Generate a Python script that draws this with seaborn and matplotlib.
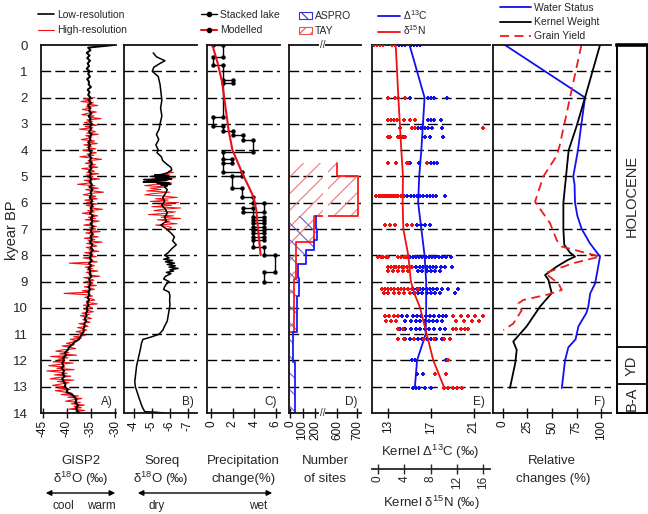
import numpy as np
import pandas as pd
import matplotlib
matplotlib.use('Agg')
import matplotlib.pyplot as plt
import matplotlib.transforms as mtransforms
import seaborn as sns
from matplotlib.lines import Line2D
from matplotlib.patches import Patch

sns.set_style('ticks')
plt.rcParams['font.family'] = ['Liberation Sans', 'DejaVu Sans']
plt.rcParams['mathtext.fontset'] = 'custom'
plt.rcParams['mathtext.rm'] = 'Liberation Sans'
plt.rcParams['mathtext.it'] = 'Liberation Sans:italic'
plt.rcParams['mathtext.bf'] = 'Liberation Sans:bold'
plt.rcParams['axes.unicode_minus'] = False
plt.rcParams['hatch.linewidth'] = 0.8

# ---------------- DATA ----------------
# A) GISP2 d18O
GISP2_LO = [-30.2,
    -35.6, -35.1, -35.9, -35.3, -35.8, -35.2, -35.7, -35.4, -35.9, -35.3,
    -35.6, -35.2, -35.8, -35.4, -35.5, -35.0, -35.7, -35.3, -35.6, -35.1,
    -35.5, -35.0, -35.6, -35.2, -35.4, -34.9, -35.5, -35.1, -35.3, -34.8,
    -35.2, -35.0, -35.4, -34.9, -35.3, -35.1, -35.6, -35.2, -35.5, -35.3,
    -35.0, -35.4, -34.9, -35.3, -34.8, -35.2, -34.9, -35.4, -35.0, -35.3,
    -34.9, -35.3, -34.8, -35.2, -34.7, -35.1, -34.9, -35.3, -34.8, -35.0,
    -34.7, -35.1, -34.8, -35.2, -34.6, -35.0, -34.7, -35.1, -34.6, -34.9,
    -35.0, -34.6, -35.1, -34.8, -35.2, -34.7, -35.0, -34.6, -35.1, -34.9,
    -35.3, -34.8, -35.4, -35.0, -35.5, -35.1, -35.3, -34.9, -35.4, -35.2,
    -35.1, -35.5, -35.2, -35.6, -35.3, -35.7, -35.4, -35.8, -35.5, -35.9,
    -35.7, -36.1, -35.9, -36.3, -36.0, -36.4, -36.3, -36.6, -36.5, -36.9,
    -37.2, -37.5, -38.4, -38.9, -39.6, -39.8, -40.4, -40.2, -40.8, -40.6,
    -41.0, -40.7, -41.1, -40.6, -40.9, -40.5, -41.0, -40.7, -40.3, -40.5,
    -39.8, -40.1, -38.9, -38.4, -38.0, -38.3, -37.7, -38.1, -37.9, -37.5]
GISP2_LO_RANGE = (0.0, 14.0)

GISP2_HI = [
    -34.2, -36.3, -35.0, -37.1, -34.5, -35.8, -33.6, -36.0, -34.9, -36.8, -35.3, -33.9, -35.7, -36.9, -34.4, -35.5, -32.9, -35.9, -34.7, -36.4,
    -35.1, -33.8, -36.2, -34.6, -37.4, -35.0, -34.1, -35.9, -33.5, -36.1, -34.8, -35.6, -37.0, -34.3, -35.4, -33.7, -36.5, -34.9, -35.8, -34.0,
    -36.7, -35.2, -33.9, -35.8, -34.4, -37.3, -35.0, -32.8, -35.6, -34.7, -36.2, -34.1, -35.5, -33.6, -36.9, -35.1, -34.3, -35.9, -33.4, -36.0,
    -34.6, -35.7, -33.2, -36.4, -34.9, -35.3, -37.8, -34.2, -35.6, -33.5, -36.1, -34.8, -32.4, -35.4, -36.6, -34.0, -35.2, -33.7, -36.3, -34.5,
    -35.9, -33.8, -36.0, -34.4, -35.1, -32.6, -35.7, -34.3, -36.8, -34.9, -33.6, -35.5, -34.1, -36.2, -33.3, -35.0, -34.6, -36.5, -33.9, -35.3,
    -34.0, -35.8, -33.1, -36.1, -34.7, -35.2, -33.5, -36.4, -34.2, -35.6, -32.7, -35.9, -34.5, -33.8, -36.0, -34.9, -35.4, -33.4, -36.3, -34.6,
    -35.5, -33.9, -36.6, -34.8, -35.2, -33.7, -39.5, -35.0, -34.3, -36.2, -34.7, -35.8, -33.6, -36.0, -34.9, -35.4, -33.2, -36.5, -35.1, -34.4,
    -36.1, -34.6, -35.7, -33.9, -36.4, -35.0, -34.3, -36.8, -35.2, -40.6, -35.9, -34.7, -36.3, -35.1, -34.2, -36.0, -35.4, -33.7, -36.6, -35.3,
    -34.8, -36.4, -35.6, -34.5, -36.9, -35.3, -37.2, -35.8, -34.9, -36.7, -36.0, -35.2, -37.5, -36.3, -35.6, -37.8, -36.5, -35.9, -38.1, -36.8,
    -37.4, -36.2, -38.6, -37.0, -39.3, -37.9, -38.8, -40.1, -38.5, -41.0, -39.4, -38.2, -40.9, -42.3, -39.6, -41.5, -38.0, -43.4, -39.8, -41.8,
    -40.5, -42.9, -38.7, -41.6, -43.8, -40.4, -42.1, -38.5, -44.2, -41.3, -40.0, -42.6, -39.2, -41.9, -43.5, -38.6, -42.0, -39.6, -41.4, -43.0,
    -40.2, -41.8, -39.3, -42.4, -40.6, -38.9, -41.2, -37.6, -39.8, -36.9, -38.7, -40.3, -37.2, -39.1, -36.4, -38.5, -37.0, -39.6, -36.3, -38.2,
    -37.4]
GISP2_HI_RANGE = (2.0, 14.0)

# B) Soreq d18O
SOREQ_AGE = [0.30, 0.45, 0.60, 0.70, 0.85, 1.00, 1.20, 1.50, 1.80, 2.10, 2.40, 2.70, 3.00, 3.20, 3.40,
             3.60, 3.80, 4.00, 4.10, 4.25, 4.40, 4.55, 4.65, 4.75, 4.85, 4.92, 4.95, 4.97, 5.00, 5.03,
             5.06, 5.09, 5.12, 5.15, 5.18, 5.21, 5.24, 5.27, 5.30, 5.33, 5.36, 5.40, 5.50, 5.65, 5.80,
             5.95, 6.10, 6.25, 6.40, 6.55, 6.70, 6.85, 7.00, 7.15, 7.30, 7.45, 7.60, 7.75, 7.90, 8.00,
             8.10, 8.15, 8.20, 8.25, 8.30, 8.35, 8.40, 8.45, 8.50, 8.55, 8.60, 8.65, 8.70, 8.80, 8.90,
             9.00, 9.10, 9.20, 9.30, 9.40, 9.55, 9.70, 9.90, 10.10, 10.30, 10.50, 10.70, 10.85, 11.00, 11.10,
             11.20, 11.35, 11.60, 11.90, 12.20, 12.50, 12.80, 13.00, 13.25, 13.50, 13.75, 13.95, 13.97, 14.00]
SOREQ = [-5.07, -5.25, -5.72, -5.45, -5.10, -5.02, -5.35, -5.45, -5.50, -5.55, -5.48, -5.55, -5.45, -5.40, -5.25,
         -5.38, -5.22, -5.35, -5.28, -5.52, -5.60, -5.85, -6.05, -6.10, -5.90, -5.60, -5.15, -5.90, -4.90, -5.95,
         -5.20, -6.10, -4.55, -5.80, -5.00, -4.52, -5.95, -5.30, -6.05, -5.50, -5.85, -5.70, -5.85, -5.75, -5.60,
         -5.70, -5.55, -5.75, -5.85, -5.70, -5.80, -5.50, -5.80, -6.05, -6.25, -6.15, -6.35, -6.10, -5.90, -5.70,
         -5.95, -5.65, -6.15, -5.75, -6.25, -5.85, -6.30, -5.95, -6.45, -6.00, -6.20, -5.80, -6.05, -5.75, -5.65,
         -5.95, -5.80, -5.70, -5.65, -5.95, -6.00, -5.98, -6.00, -5.95, -5.90, -5.85, -5.70, -5.60, -5.40, -5.00,
         -4.50, -4.42, -4.35, -4.25, -4.15, -4.10, -4.05, -4.08, -4.20, -4.32, -4.45, -4.60, -5.20, -5.70]
SOREQ_HI = [-5.9, -6.2, -5.6, -6.0, -5.3, -6.3, -5.0, -5.9, -4.8, -6.1, -5.2, -4.6, -5.8, -4.9, -5.5,
            -4.7, -6.0, -5.1, -4.6, -5.7, -6.4, -5.2, -5.9, -4.9, -6.5, -5.4, -6.1, -5.0, -6.6, -5.6,
            -5.1, -6.3, -5.8, -4.8, -6.2, -5.5, -6.6, -5.3, -6.0, -5.7, -6.4, -5.2, -5.9, -6.1, -5.8]
SOREQ_HI_RANGE = (4.8, 7.0)

# C) Precipitation change (%)
LAKE_VAL = [0.12, 1.05, 1.05, 0.12, 0.12, 1.05, 1.05, 2.06, 2.06, 1.05, 1.05, 0.12, 0.12, 1.05, 1.05,
            2.06, 2.06, 2.98, 2.98, 3.91, 3.91, 1.05, 1.05, 1.97, 1.97, 1.05, 1.05, 2.89, 2.89, 1.97,
            1.97, 2.89, 2.89, 3.91, 3.91, 4.93, 4.93, 2.98, 2.98, 3.91, 3.91, 4.93, 4.93, 3.91, 3.91,
            4.93, 4.93, 3.91, 3.91, 4.93, 4.93, 3.91, 3.91, 4.93, 4.93, 3.91, 3.91, 4.93, 4.93, 5.91,
            5.91, 4.93, 4.93]
LAKE_AGE = [0.00, 0.00, 0.47, 0.47, 0.76, 0.76, 1.33, 1.33, 1.43, 1.43, 2.73, 2.73, 3.10, 3.10, 3.29,
            3.29, 3.42, 3.42, 3.61, 3.61, 4.06, 4.06, 4.35, 4.35, 4.50, 4.50, 4.82, 4.82, 5.00, 5.00,
            5.45, 5.45, 5.77, 5.77, 6.02, 6.02, 6.34, 6.34, 6.21, 6.21, 6.53, 6.53, 6.65, 6.65, 6.78,
            6.78, 6.91, 6.91, 7.04, 7.04, 7.16, 7.16, 7.29, 7.29, 7.41, 7.41, 7.67, 7.67, 7.98, 7.98,
            8.62, 8.62, 9.00]
MODEL_VAL = [0.1, 0.6, 1.0, 1.3, 1.6, 1.97, 2.5, 2.9, 3.5, 3.95, 4.2, 4.35, 4.5, 4.6]
MODEL_AGE = [0.0, 0.7, 1.4, 2.3, 3.2, 4.0, 4.5, 4.9, 5.4, 5.8, 6.3, 7.0, 7.6, 8.0]

# D) Number of sites
ASPRO_EDGES = [6.5, 7.0, 7.4, 7.8, 8.35, 8.85, 9.55, 10.9, 12.05, 14.0]
ASPRO_COUNT = [205, 212, 188, 126, 62, 72, 52, 22, 42]
TAY_EDGES = [4.5, 5.0, 6.5, 7.5, 8.9, 10.9]
TAY_COUNT = [600, 705, 190, 45, 28]

# E) Kernel isotopes
D13C_LINE_AGE = [0, 2, 3, 4, 5, 6, 7, 8, 9, 10, 11, 12, 13]
D13C_LINE = [15.0, 16.4, 16.25, 16.1, 15.9, 15.8, 16.1, 16.4, 16.55, 16.55, 16.5, 15.7, 15.5]
D15N_LINE_AGE = [0, 2, 4, 5, 6, 7, 8, 9, 9.5, 10, 11, 11.3, 12, 13]
D15N_LINE = [2.7, 3.1, 3.55, 3.8, 3.75, 3.85, 4.6, 5.0, 5.6, 6.4, 7.4, 7.7, 8.4, 10.0]
D13C_PTS = {
    0.0: [14.0, 14.3, 14.6, 15.1, 15.4, 15.7, 16.0],
    2.0: [15.0, 16.7, 17.0, 17.3, 18.5],
    2.85: [16.7, 17.0, 17.3, 17.9],
    3.15: [15.8, 16.1, 16.4, 16.7, 17.1, 18.0],
    3.5: [14.1, 14.4, 16.4, 16.9, 18.1],
    4.5: [15.0, 15.9, 17.0, 17.3, 17.6],
    5.75: [14.5, 14.8, 15.1, 15.4, 15.7, 16.0, 16.3, 16.6, 16.9, 17.2, 17.5, 18.3],
    6.85: [15.65, 16.1, 16.4, 16.9],
    8.05: [14.6, 15.0, 15.3, 15.6, 15.9, 16.2, 16.5, 16.8, 17.1, 17.4, 17.7, 18.0, 18.4, 18.9],
    8.45: [15.2, 15.6, 16.0, 16.3, 16.6, 16.9, 17.2, 17.5, 17.9, 18.3, 19.0],
    8.6: [15.8, 16.2, 16.6, 17.0, 17.4, 17.8],
    9.3: [14.9, 15.3, 15.7, 16.0, 16.3, 16.6, 16.9, 17.2, 17.6, 18.0, 18.6, 19.5],
    9.45: [15.4, 15.8, 16.2, 16.6, 17.0, 17.4, 17.8, 19.2],
    10.3: [14.3, 14.8, 15.3, 15.7, 16.1, 16.5, 16.9, 17.3, 17.7, 18.1, 18.4],
    10.5: [14.6, 15.1, 15.6, 16.0, 16.4, 16.8, 17.2, 17.6, 18.0],
    10.8: [14.1, 14.6, 15.1, 15.6, 16.0, 16.4, 16.8, 17.3, 17.8, 18.3],
    11.2: [14.6, 15.0, 15.4, 15.8, 16.2, 16.6, 17.0, 17.5, 18.0],
    12.0: [15.2, 15.5, 18.4],
    12.5: [15.7, 16.3],
    13.05: [15.3, 15.6, 15.9, 16.4, 17.0],
}
D15N_PTS = {
    0.0: [-0.6, -0.2, 0.3, 0.8, 2.1, 2.6],
    2.0: [1.6, 2.6, 3.1, 4.1],
    2.85: [1.6, 2.0, 2.4, 2.9, 3.9, 4.9, 5.6],
    3.15: [3.3, 5.1, 5.6, 16.0],
    3.5: [1.6, 1.8, 3.1, 3.6, 4.1],
    4.5: [1.6, 2.8, 4.4, 4.6, 7.4],
    5.75: [-0.3, 0.1, 0.4, 0.7, 1.0, 1.3, 1.6, 1.9, 2.2, 2.5, 2.8, 3.1, 3.5, 3.8],
    6.85: [1.06, 1.8, 2.6, 4.4, 5.1],
    8.05: [0.05, 0.4, 0.8, 1.2, 1.6, 3.1, 3.5, 3.9, 4.3, 4.6],
    8.45: [1.6, 2.0, 2.4, 2.8, 3.2, 3.6, 4.0, 4.4, 4.8, 5.1],
    8.6: [1.5, 2.3, 3.0, 3.8, 4.5],
    9.3: [0.6, 1.0, 1.5, 2.0, 2.5, 3.0, 3.5, 4.0, 4.6, 5.2, 6.1],
    9.45: [0.9, 1.6, 2.4, 3.2, 4.0, 4.8, 5.6],
    10.3: [1.0, 1.7, 2.4, 3.0, 11.4, 12.6, 13.6, 14.8, 16.0],
    10.5: [1.2, 2.0, 2.8, 11.8, 13.0, 14.2, 15.4],
    10.8: [3.1, 3.8, 11.4, 11.9, 12.6, 13.2, 13.7],
    11.2: [3.1, 4.0, 5.5, 7.0, 8.5, 10.0, 11.0],
    12.0: [10.7],
    12.5: [8.7, 10.4],
    13.05: [10.0, 10.6, 11.4, 12.0, 12.7],
}

# F) Relative changes (%)
WATER_AGE = [0, 2.0, 3.0, 4.0, 5.0, 5.3, 6.0, 6.5, 7.0, 7.55, 8.05, 9.07, 9.45, 9.96, 10.2, 10.7, 11.2, 11.5, 12.0, 13.05]
WATER = [2, 83.7, 80, 76.5, 71.7, 73, 73.5, 75.9, 80.3, 88.8, 99, 94, 89, 87, 85, 77, 74, 66.7, 63.3, 60]
KW_AGE = [0, 2.0, 3.1, 4.0, 5.0, 6.0, 7.0, 7.6, 7.9, 8.05, 8.18, 8.43, 8.75, 8.93, 9.44, 9.95, 10.7, 11.28, 11.6, 12.1, 13.05]
KW = [99, 83.7, 75, 67, 64.3, 61.6, 61.6, 62.5, 68.4, 73.5, 66, 54.8, 42.9, 46.3, 49.7, 37.8, 24.2, 10.5, 14, 12.5, 7.1]
GY_AGE = [0, 2.0, 3.8, 4.2, 5.0, 5.96, 6.78, 7.42, 7.67, 8.05, 8.3, 8.68, 9.07, 9.32, 9.5, 9.7, 9.83, 10.1, 10.6, 10.85]
GY = [80, 68.4, 58, 55, 41.2, 32.7, 48, 54.8, 60, 99, 71.7, 42.9, 56.5, 60, 45, 20.7, 15.6, 19, 10.5, 0.3]

PERIODS = ['HOLOCENE', 'YD', 'B-A']
PERIOD_EDGES = [0.0, 11.5, 12.9, 14.0]

# ---------------- FIGURE ----------------
W, H = 648, 514
fig = plt.figure(figsize=(W / 100, H / 100), dpi=100)
RED = '#f01010'
BLUE = '#1010f0'
TOP, BOT = 45, 413


def rect(x0, x1):
    return [x0 / W, 1 - BOT / H, (x1 - x0) / W, (BOT - TOP) / H]


def style(ax, xlim, xticks, label):
    ax.set_xlim(*xlim)
    ax.set_ylim(14, 0)
    ax.set_xticks(xticks)
    ax.spines['right'].set_visible(False)
    for s in ('left', 'top', 'bottom'):
        ax.spines[s].set_linewidth(1.3)
        ax.spines[s].set_color('#111111')
    ax.tick_params(axis='x', direction='inout', length=6.5, width=1.0, labelsize=8.5,
                   labelrotation=90, pad=2, colors='#111111')
    ax.tick_params(axis='y', left=False, labelleft=False)
    for k in range(1, 14):
        ax.axhline(k, color='black', lw=1.0, ls=(0, (7, 3)), zorder=0.8)
    ax.set_xlabel('')
    ax.set_ylabel('')
    ax.text(0.955, 0.03, label, transform=ax.transAxes, ha='right', va='center', fontsize=8.5)


def ages(rng, vals):
    return np.linspace(rng[0], rng[1], len(vals))


# Panel A
axA = fig.add_axes(rect(41, 116))
sns.lineplot(x=GISP2_HI, y=ages(GISP2_HI_RANGE, GISP2_HI), sort=False, estimator=None,
             color=RED, lw=0.8, ax=axA)
sns.lineplot(x=GISP2_LO, y=ages(GISP2_LO_RANGE, GISP2_LO), sort=False, estimator=None,
             color='black', lw=1.4, ax=axA)
style(axA, (-45.4, -29.8), [-45, -40, -35, -30], 'A)')
axA.set_yticks(range(15))
axA.tick_params(axis='y', left=False, labelleft=True, labelsize=9.5, pad=6)

# Panel B
axB = fig.add_axes(rect(124, 197))
sns.lineplot(x=SOREQ_HI, y=ages(SOREQ_HI_RANGE, SOREQ_HI), sort=False, estimator=None,
             color=RED, lw=0.7, ax=axB)
sns.lineplot(x=SOREQ, y=SOREQ_AGE, sort=False, estimator=None, color='black', lw=1.1, ax=axB)
style(axB, (-3.45, -7.5), [-4, -5, -6, -7], 'B)')

# Panel C
axC = fig.add_axes(rect(207, 280))
sns.lineplot(x=LAKE_VAL, y=LAKE_AGE, sort=False, estimator=None, color='black', lw=1.0,
             marker='o', markersize=3.2, markeredgewidth=0, ax=axC)
sns.lineplot(x=MODEL_VAL, y=MODEL_AGE, sort=False, estimator=None, color='#e8101a', lw=1.5, ax=axC)
style(axC, (-0.4, 6.4), [0, 2, 4, 6], 'C)')

# Panel D (broken x axis)
def d_fwd(x):
    x = np.asarray(x, float)
    return np.where(x <= 250, x * 0.125,
                    np.where(x < 555, 31.25 + (x - 250) * (6.75 / 305), 38 + (x - 555) * 0.2))


def d_inv(p):
    p = np.asarray(p, float)
    return np.where(p <= 31.25, p / 0.125,
                    np.where(p < 38, 250 + (p - 31.25) * (305 / 6.75), 555 + (p - 38) / 0.2))


axD = fig.add_axes(rect(289, 361))
axD.set_xscale('function', functions=(d_fwd, d_inv))


def step_outline(edges, counts):
    xs, ys = [], []
    for i, c in enumerate(counts):
        xs += [c, c]
        ys += [edges[i], edges[i + 1]]
    xs.append(0)
    ys.append(edges[-1])
    return xs, ys


axD.fill_betweenx(TAY_EDGES, 0, TAY_COUNT + TAY_COUNT[-1:], step='post', facecolor='none',
                  edgecolor='#f07878', hatch='//', linewidth=0, zorder=1)
axD.fill_betweenx(ASPRO_EDGES, 0, ASPRO_COUNT + ASPRO_COUNT[-1:], step='post', facecolor='none',
                  edgecolor='#6060d8', hatch='\\\\', linewidth=0, zorder=1.1)
tx, ty = step_outline(TAY_EDGES, TAY_COUNT)
sns.lineplot(x=tx, y=ty, sort=False, estimator=None, color='#ff1a1a', lw=1.3, ax=axD)
ax_, ay_ = step_outline(ASPRO_EDGES, ASPRO_COUNT)
sns.lineplot(x=ax_, y=ay_, sort=False, estimator=None, color='#1a1aff', lw=1.3, ax=axD)
axD.fill_betweenx([4.4, 6.6], 330, 552, color='white', lw=0, zorder=2.6)
style(axD, (-8, 720), [0, 100, 200, 600, 700], 'D)')
btr = mtransforms.blended_transform_factory(axD.transData, axD.transAxes)
for yy in (0, 1):
    axD.text(300, yy, '//', transform=btr, ha='center', va='center', fontsize=7,
             bbox=dict(fc='white', ec='none', pad=0.2), zorder=5, clip_on=False)

# Panel E
axE = fig.add_axes(rect(372, 490))
axE2 = axE.twiny()
c_rows = [(a, v) for a, vals in D13C_PTS.items() for v in vals]
n_rows = [(a, v) for a, vals in D15N_PTS.items() for v in vals]
dfc = pd.DataFrame(c_rows, columns=['age', 'val'])
dfn = pd.DataFrame(n_rows, columns=['age', 'val'])
sns.scatterplot(data=dfn, x='val', y='age', color=RED, marker='P', s=10, linewidth=0, ax=axE2, zorder=2)
sns.scatterplot(data=dfc, x='val', y='age', color=BLUE, marker='P', s=10, linewidth=0, ax=axE, zorder=2)
sns.lineplot(x=D13C_LINE, y=D13C_LINE_AGE, sort=False, estimator=None, color=BLUE, lw=1.3, ax=axE, zorder=3)
sns.lineplot(x=D15N_LINE, y=D15N_LINE_AGE, sort=False, estimator=None, color=RED, lw=1.3, ax=axE2, zorder=3)
style(axE, (11.5, 22.5), [13, 17, 21], 'E)')
axE2.set_xlim(-0.9, 17.0)
axE2.set_ylim(14, 0)
axE2.set_xticks([0, 4, 8, 12, 16])
axE2.xaxis.set_ticks_position('bottom')
axE2.xaxis.set_label_position('bottom')
axE2.spines['bottom'].set_position(('outward', 40))
for s in ('top', 'left', 'right'):
    axE2.spines[s].set_visible(False)
axE2.spines['bottom'].set_linewidth(1.3)
axE2.tick_params(axis='x', direction='inout', length=6.5, width=1.0, labelsize=8.5,
                 labelrotation=90, pad=2)
axE2.set_xlabel('')
axE2.set_ylabel('')

# Panel F
axF = fig.add_axes(rect(493, 611))
sns.lineplot(x=WATER, y=WATER_AGE, sort=False, estimator=None, color=BLUE, lw=1.3, ax=axF)
sns.lineplot(x=KW, y=KW_AGE, sort=False, estimator=None, color='black', lw=1.3, ax=axF)
sns.lineplot(x=GY, y=GY_AGE, sort=False, estimator=None, color='#ee1c1c', lw=1.3,
             dashes=False, ax=axF, linestyle=(0, (5, 3)))
style(axF, (-10.2, 110.2), [0, 25, 50, 75, 100], 'F)')

# Period bar
axP = fig.add_axes(rect(617, 647))
axP.set_xlim(0, 1)
axP.set_ylim(14, 0)
axP.set_xticks([])
axP.set_yticks([])
for s in axP.spines.values():
    s.set_linewidth(1.4)
    s.set_color('black')
axP.spines['top'].set_linewidth(2.6)
for e in PERIOD_EDGES[1:-1]:
    axP.axhline(e, color='black', lw=1.3)
for name, a0, a1 in zip(PERIODS, PERIOD_EDGES[:-1], PERIOD_EDGES[1:]):
    axP.text(0.5, (a0 + a1) / 2, name, rotation=90, ha='center', va='center', fontsize=10.5)

# Legends
def flegend(handles, labels, x, y, hl=1.5, ls=0.5):
    fig.legend(handles, labels, loc='upper left', bbox_to_anchor=(x / W, 1 - y / H),
               frameon=False, fontsize=7.5, handlelength=hl, handletextpad=0.3,
               labelspacing=ls, borderpad=0, borderaxespad=0)


flegend([Line2D([], [], color='black', lw=1.2), Line2D([], [], color=RED, lw=0.8)],
        ['Low-resolution', 'High-resolution'], 38, 10)
flegend([Line2D([], [], color='black', lw=1.0, marker='o', ms=3),
         Line2D([], [], color='#e8101a', lw=1.5, marker='o', ms=3, mfc='black', mec='black')],
        ['Stacked lake', 'Modelled'], 201, 10)
flegend([Patch(facecolor='white', edgecolor='#3030e0', hatch='\\\\\\', lw=0.8),
         Patch(facecolor='white', edgecolor='#f05050', hatch='///', lw=0.8)],
        ['ASPRO', 'TAY'], 299, 11, hl=1.2)
flegend([Line2D([], [], color=BLUE, lw=1.3), Line2D([], [], color=RED, lw=1.3)],
        ['Δ$^{13}$C', 'δ$^{15}$N'], 378, 8, hl=2.1, ls=0.15)
flegend([Line2D([], [], color=BLUE, lw=1.3), Line2D([], [], color='black', lw=1.3),
         Line2D([], [], color='#ee1c1c', lw=1.3, ls=(0, (5, 3)))],
        ['Water Status', 'Kernel Weight', 'Grain Yield'], 500, 3, hl=3.0, ls=0.4)

# Axis texts
def ftext(x, y, s, **kw):
    fig.text(x / W, 1 - y / H, s, ha='center', va='center', **kw)


ftext(12, 230, 'kyear BP', rotation=90, fontsize=10.5)
ftext(81, 461, 'GISP2', fontsize=9.5)
ftext(81, 479, 'δ$^{18}$O (‰)', fontsize=9.5)
ftext(162, 461, 'Soreq', fontsize=9.5)
ftext(161, 479, 'δ$^{18}$O (‰)', fontsize=9.5)
ftext(243, 461, 'Precipitation', fontsize=9.5)
ftext(244, 479, 'change(%)', fontsize=9.5)
ftext(325, 461, 'Number', fontsize=9.5)
ftext(325, 479, 'of sites', fontsize=9.5)
ftext(430, 452, 'Kernel Δ$^{13}$C (‰)', fontsize=9.5)
ftext(431, 503, 'Kernel δ$^{15}$N (‰)', fontsize=9.5)
ftext(552, 461, 'Relative', fontsize=9.5)
ftext(553, 479, 'changes (%)', fontsize=9.5)
ftext(63, 506, 'cool', fontsize=8.5)
ftext(101, 506, 'warm', fontsize=8.5)
ftext(157, 506, 'dry', fontsize=8.5)
ftext(258, 506, 'wet', fontsize=8.5)

for x0, x1 in ((43, 118), (135, 275)):
    fig.add_artist(matplotlib.patches.FancyArrowPatch(
        (x0 / W, 1 - 493 / H), (x1 / W, 1 - 493 / H), transform=fig.transFigure,
        arrowstyle='<|-|>', mutation_scale=8, color='black', lw=1.0))

fig.savefig('out.png', dpi=100)
